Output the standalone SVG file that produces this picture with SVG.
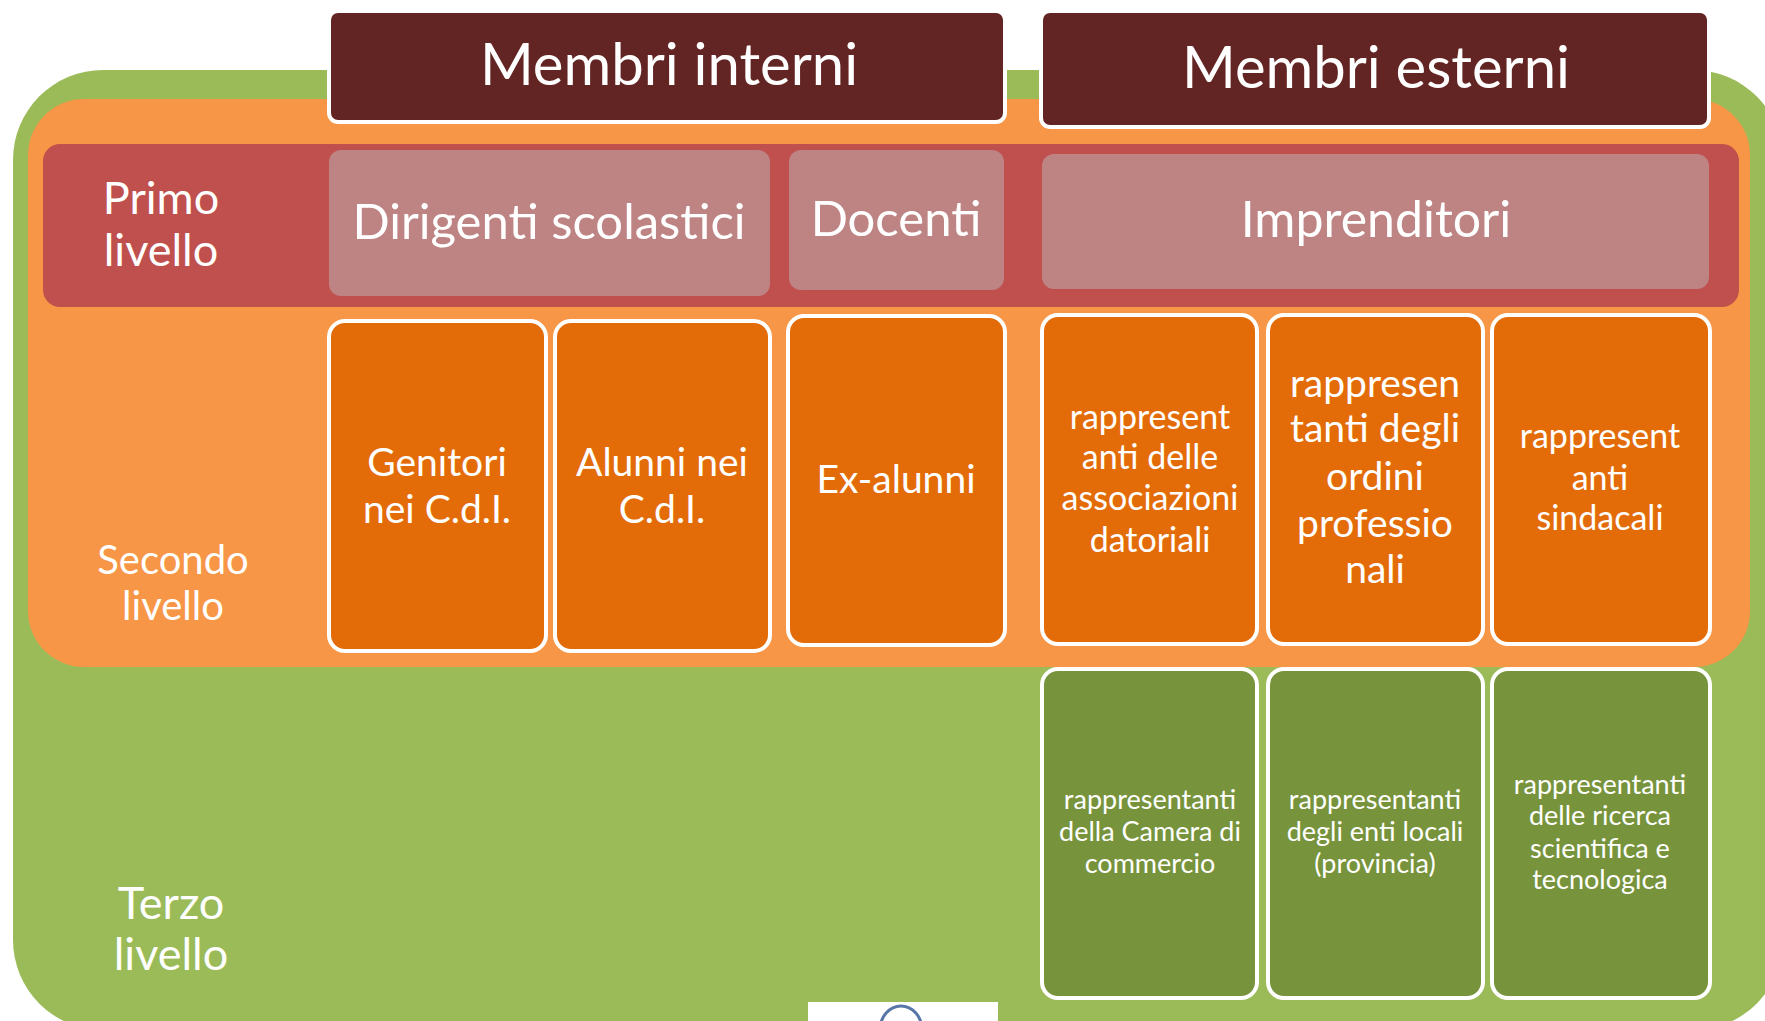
<svg xmlns="http://www.w3.org/2000/svg" width="1765" height="1021" viewBox="0 0 1765 1021">
<style>
text{font-family:"Lato","Open Sans","Liberation Sans",sans-serif;fill:#ffffff;text-anchor:middle}
.hdr{fill:#632523;stroke:#ffffff;stroke-width:4}
.pink{fill:#BE8383}
.or{fill:#E36C09;stroke:#ffffff;stroke-width:4}
.gr{fill:#77933C;stroke:#ffffff;stroke-width:4}
.t58{font-size:58px}
.t49{font-size:49px}
.t50{font-size:50px}
.t45{font-size:45px}
.t40{font-size:40px}
.t39{font-size:39px}
.t34{font-size:34px}
.t27{font-size:27px}
</style>
<rect width="1765" height="1021" fill="#ffffff"/>
<g id="background">
<rect x="13" y="70" width="1770" height="960" rx="90" fill="#9BBB59"/>
<rect x="28" y="99" width="1722" height="568" rx="56" fill="#F79646"/>
<rect x="43" y="144" width="1696" height="163" rx="17" fill="#C0504D"/>
</g>
<g id="levels">
<text class="t45"><tspan x="161" y="214">Primo</tspan><tspan x="161" y="266">livello</tspan></text>
<text class="t40"><tspan x="173" y="574">Secondo</tspan><tspan x="173" y="620">livello</tspan></text>
<text class="t45"><tspan x="171" y="919">Terzo</tspan><tspan x="171" y="970">livello</tspan></text>
</g>
<g id="membri-interni">
<rect class="hdr" x="329" y="11" width="676" height="111" rx="9"/>
<text class="t58" x="669" y="85">Membri interni</text>
</g>
<g id="membri-esterni">
<rect class="hdr" x="1041" y="11" width="668" height="116" rx="9"/>
<text class="t58" x="1376" y="88">Membri esterni</text>
</g>
<g id="dirigenti">
<rect class="pink" x="329" y="150" width="441" height="146" rx="12"/>
<text class="t49" x="549" y="239">Dirigenti scolastici</text>
</g>
<g id="docenti">
<rect class="pink" x="789" y="150" width="215" height="140" rx="12"/>
<text class="t49" x="896" y="236">Docenti</text>
</g>
<g id="imprenditori">
<rect class="pink" x="1042" y="154" width="667" height="135" rx="12"/>
<text class="t50" x="1376" y="237">Imprenditori</text>
</g>
<g id="genitori">
<rect class="or" x="329" y="321" width="217" height="330" rx="16"/>
<text class="t39"><tspan x="437" y="476">Genitori</tspan><tspan x="437" y="523">nei C.d.I.</tspan></text>
</g>
<g id="alunni">
<rect class="or" x="555" y="321" width="215" height="330" rx="16"/>
<text class="t39"><tspan x="662" y="476">Alunni nei</tspan><tspan x="662" y="523">C.d.I.</tspan></text>
</g>
<g id="ex-alunni">
<rect class="or" x="788" y="316" width="217" height="329" rx="16"/>
<text class="t39" x="896" y="493">Ex-alunni</text>
</g>
<g id="associazioni">
<rect class="or" x="1042" y="315" width="215" height="329" rx="16"/>
<text class="t34"><tspan x="1150" y="429">rappresent</tspan><tspan x="1150" y="469">anti delle</tspan><tspan x="1150" y="510">associazioni</tspan><tspan x="1150" y="552">datoriali</tspan></text>
</g>
<g id="ordini">
<rect class="or" x="1268" y="315" width="215" height="329" rx="16"/>
<text class="t39"><tspan x="1375" y="397">rappresen</tspan><tspan x="1375" y="442">tanti degli</tspan><tspan x="1375" y="490">ordini</tspan><tspan x="1375" y="537">professio</tspan><tspan x="1375" y="583">nali</tspan></text>
</g>
<g id="sindacali">
<rect class="or" x="1492" y="315" width="218" height="329" rx="16"/>
<text class="t34"><tspan x="1600" y="448">rappresent</tspan><tspan x="1600" y="490">anti</tspan><tspan x="1600" y="530">sindacali</tspan></text>
</g>
<g id="camera">
<rect class="gr" x="1042" y="669" width="215" height="329" rx="16"/>
<text class="t27"><tspan x="1150" y="809">rappresentanti</tspan><tspan x="1150" y="841">della Camera di</tspan><tspan x="1150" y="873">commercio</tspan></text>
</g>
<g id="enti-locali">
<rect class="gr" x="1268" y="669" width="215" height="329" rx="16"/>
<text class="t27"><tspan x="1375" y="809">rappresentanti</tspan><tspan x="1375" y="841">degli enti locali</tspan><tspan x="1375" y="873">(provincia)</tspan></text>
</g>
<g id="ricerca">
<rect class="gr" x="1492" y="669" width="218" height="329" rx="16"/>
<text class="t27"><tspan x="1600" y="794">rappresentanti</tspan><tspan x="1600" y="825">delle ricerca</tspan><tspan x="1600" y="858">scientifica e</tspan><tspan x="1600" y="889">tecnologica</tspan></text>
</g>
<g id="fragment">
<rect x="808" y="1002" width="190" height="19" fill="#ffffff"/>
<ellipse cx="901" cy="1030" rx="21" ry="24" fill="none" stroke="#5877a8" stroke-width="3"/>
</g>
<g id="connectors"/>
</svg>
